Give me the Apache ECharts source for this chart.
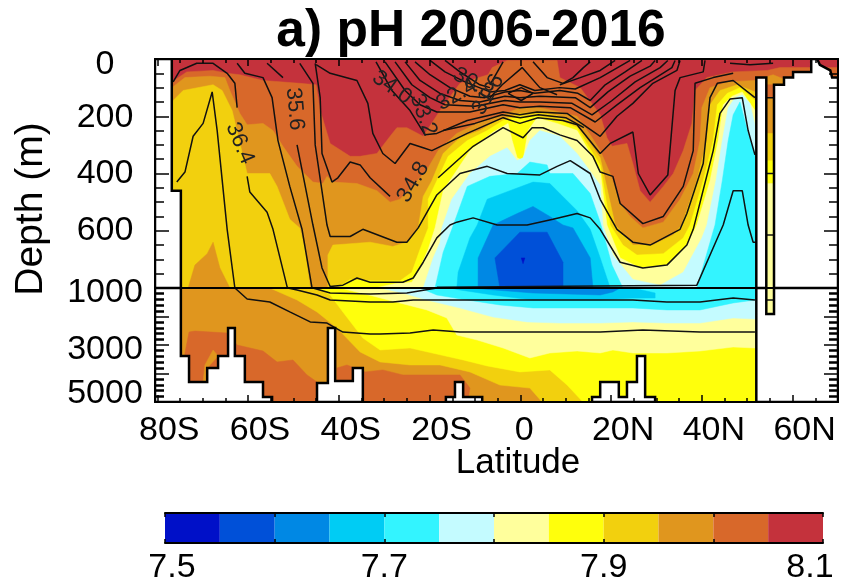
<!DOCTYPE html>
<html><head><meta charset="utf-8">
<style>html,body{margin:0;padding:0;background:#fff}#c{width:842px;height:587px}</style>
<script src="https://cdn.jsdelivr.net/npm/echarts@6/dist/echarts.min.js"></script>
</head><body><div id="c"></div>
<script>
// pH colour levels (7.5 to 8.1, step 0.05)
const phLevels=[7.5,7.55,7.6,7.65,7.7,7.75,7.8,7.85,7.9,7.95,8,8.05,8.1];
const phColors=['#0010c8','#0050d8','#0088e4','#00ccf4','#33f4ff','#c4fbff','#ffff9c','#ffff0c','#f2d00e','#e0961e','#d8682a','#c4323c'];
const latMajor=[-80,-60,-40,-20,0,20,40,60];
const latMinor=[-80,-75,-70,-65,-60,-55,-50,-45,-40,-35,-30,-25,-20,-15,-10,-5,0,5,10,15,20,25,30,35,40,45,50,55,60,65,70];
const latLabels={'-80':'80S','-60':'60S','-40':'40S','-20':'20S','0':'0','20':'20N','40':'40N','60':'60N'};
const cbTicks=[7.5,7.6,7.7,7.8,7.9,8,8.1];
const cbLabels=[7.5,7.7,7.9,8.1];

// Upper panel (0-800 on its axis): regions below each pH level, as [lat, depth]
const upBase=[[-80.5,0],[70,0],[70,800],[-80.5,800]];
const up805=[[-80.5,80],[-76.8,80],[-73.5,45],[-67.7,40],[-64.6,50],[-61.8,55],[-56.7,75],[-48.6,85],[-45,90],[-44.1,180],[-41.9,295],[-37.5,340],[-35.3,340],[-31.6,330],[-28.7,270],[-27.2,240],[-25,240],[-21.4,270],[-17.7,180],[-13.3,85],[-7.1,55],[-6.2,30],[-2.9,5],[8.1,5],[8.7,65],[13.2,100],[17.6,195],[19.1,275],[20.2,305],[23.5,295],[24.8,365],[26.4,460],[28.6,500],[31.5,445],[33.7,400],[35.9,320],[37.8,225],[38.5,110],[41.1,65],[46.9,45],[54.4,40],[57.2,30],[70,30],[70,800],[-80.5,800]];
const up800=[[-80.5,100],[-76.8,100],[-73.9,65],[-68.4,60],[-65.1,65],[-64,110],[-61.8,190],[-60.2,230],[-56.7,225],[-54.5,250],[-52.3,305],[-49.2,375],[-45.7,430],[-43.5,435],[-42.6,410],[-41.3,430],[-36,435],[-31.6,460],[-28.7,500],[-26.5,490],[-23.2,435],[-20.3,380],[-18.1,320],[-14,260],[-8.2,215],[-3.8,195],[-0.1,170],[4.3,170],[8.7,185],[12.5,200],[15.4,265],[17.6,320],[19.8,400],[22,505],[24.2,550],[27,590],[31.5,570],[35.2,490],[38.1,400],[39.6,285],[40,170],[41.8,100],[45.6,80],[51.7,75],[55.7,55],[58.8,75],[70,75],[70,800],[-80.5,800]];
const up795W=[[-80.5,145],[-76.5,145],[-74.3,110],[-67.7,90],[-65.7,110],[-63.5,180],[-60.2,400],[-55.2,400],[-53.6,445],[-50.8,560],[-48.6,590],[-47.5,665],[-46.3,800],[-80.5,800]];
const up795C=[[-42.4,800],[-42.4,685],[-41.3,650],[-33.1,640],[-28.1,655],[-25,640],[-22.5,590],[-21.4,480],[-19.5,425],[-17,330],[-13.3,275],[-8.9,250],[-5.1,215],[-0.1,190],[4.3,185],[8.7,200],[12.5,230],[17.6,345],[20.9,580],[24.8,650],[29.2,650],[33.7,615],[35.6,580],[38.9,425],[41.1,285],[41.8,160],[44,110],[47.8,90],[51.7,115],[52,800]];
const upLobe=[[-73.2,800],[-71.7,720],[-69,680],[-67.7,640],[-66.2,730],[-64,800]];
const up790=[[-40.4,800],[-37.5,770],[-32.7,775],[-26.5,775],[-23.9,745],[-22.1,665],[-20.3,590],[-20.3,490],[-18.4,425],[-15.9,340],[-11.7,285],[-7.3,250],[-3.8,215],[-0.1,200],[3.7,200],[8.7,215],[12.5,240],[17.6,370],[19.8,580],[22.6,650],[25.7,685],[31.5,680],[35.9,625],[37.4,580],[40.3,425],[42.5,285],[43.4,160],[45.6,120],[48.4,100],[51.7,145],[52,800]];
const up785=[[-32,800],[-27.6,785],[-23.9,780],[-22.1,730],[-20.3,665],[-18.8,590],[-17,460],[-11.1,320],[-6,255],[-2.7,225],[-1.8,285],[-0.7,345],[0.6,355],[1.7,250],[3.7,205],[8.1,225],[12.5,250],[17.6,390],[19.1,580],[22,695],[26.4,730],[32.3,720],[36.7,650],[38.9,580],[41.8,425],[43.6,285],[44.7,160],[46.7,130],[48.9,115],[51.7,180],[52,800]];
const up780=[[-21.4,800],[-19.2,695],[-17.7,640],[-17.3,590],[-15.1,490],[-11.1,400],[-6.7,340],[-2.9,310],[-0.7,355],[0.6,345],[2.1,285],[4.3,250],[8.7,270],[12.5,330],[17.6,440],[18.2,580],[20.4,685],[24.8,770],[30.8,790],[35.9,745],[40,625],[41.1,580],[43.1,425],[44.5,285],[45.8,170],[47.3,135],[48.9,125],[50.6,155],[51.7,230],[52,800]];
const up775W=[[-18.8,800],[-17,675],[-15.1,595],[-11.7,445],[-6.7,410],[-0.7,400],[2.1,360],[5.9,370],[6.5,400],[11.6,400],[15.4,470],[17.6,570],[20.2,720],[22.6,800]];
const up775E=[[38.9,800],[42.9,580],[44.5,425],[45.8,285],[46.9,195],[48.4,150],[50.2,260],[51.7,330],[52,800]];
const up770=[[-14,800],[-13.7,745],[-11.1,625],[-9.5,580],[-7.3,490],[-2.3,460],[2.8,430],[6.5,435],[8.7,470],[12.5,530],[15.4,595],[17.6,695],[19.8,800]];
const up765=[[-9.3,800],[-9.3,695],[-6,580],[-0.7,540],[2.8,515],[6.5,550],[9.4,580],[11.6,590],[15.4,695],[16,800]];
const up760=[[-4.5,800],[-5.6,695],[-0.1,605],[5.9,605],[9.4,710],[9.4,800]];
const up755=[[0.2,695],[1,695],[0.6,715]];
const colA=[[54.2,90],[55.9,90],[55.9,135],[54.2,135]];
const colB=[[54.2,135],[55.9,135],[55.9,260],[54.2,260]];
const colC=[[54.2,260],[55.9,260],[55.9,355],[54.2,355]];
const colD=[[54.2,355],[55.9,355],[55.9,435],[54.2,435]];
const colE=[[54.2,435],[55.9,435],[55.9,800],[54.2,800]];
// Upper panel land
const landW=[[-80.5,0],[-76.8,0],[-76.8,460],[-74.8,460],[-74.8,800],[-80.5,800]];
const landBar=[[52,800],[52,65],[54.2,65],[54.2,800]];
const landNE=[[55.9,800],[55.9,90],[58.1,90],[58.1,65],[60.1,65],[60.1,45],[64.1,45],[64.1,0],[65.4,0],[66,20],[68.3,40],[68.7,65],[70,65],[70,800]];

// Lower panel (1000-5000 m)
const lowBase=[[-80.5,1000],[70,1000],[70,5000],[-80.5,5000]];
const lowDarkW=[[-73.9,3280],[-73,2545],[-71.7,2510],[-64.6,2580],[-62.4,3000],[-56.7,3210],[-53.6,3595],[-50.1,3525],[-47,4050],[-44.8,4300],[-44.8,5000],[-73.9,5000]];
const lowNotch=[[-69.9,4300],[-69.5,3700],[-67.7,3175],[-66.6,3385],[-69,3805],[-69,4300]];
const lowDarkE=[[-40.4,3805],[-38.2,3700],[-34.2,3945],[-30.3,3875],[-25.9,4050],[-13.3,4050],[-11.1,4510],[-11.6,5000],[-40.4,5000]];
const low795=[[-55.2,1000],[-49.2,1420],[-44.8,1840],[-40.4,2405],[-35.3,3245],[-30.9,3595],[-24.3,3700],[-17.7,3700],[-11.1,3945],[-4.5,4405],[2.1,4510],[4.8,5000],[52,5000],[52,1000]];
const low790=[[-44.6,1000],[-41.9,1245],[-39.1,1840],[-34.7,2755],[-30.9,3175],[-24.3,3105],[-12.6,3525],[-7.3,3735],[-0.1,3945],[6.5,3875],[10.3,4405],[13.8,5000],[52,5000],[52,1000]];
const low785=[[-39.7,1000],[-32.5,1280],[-20.6,1770],[-16.2,2050],[-14,2650],[-9.5,2825],[-3.8,3105],[2.1,3455],[6.5,3280],[12.5,3210],[17.6,3280],[20.4,3175],[24.8,3280],[32.3,3280],[39.6,3210],[46.9,3070],[51.7,3105],[52,1000]];
const low780=[[-30.9,1000],[-25.9,1175],[-20.6,1420],[-13.3,1700],[-6,2020],[1.5,2190],[8.7,2230],[17.6,2230],[24.8,2190],[32.3,2230],[39.6,2230],[46.9,2050],[51.7,2090],[52,1000]];
const low775=[[-22.1,1000],[-18.4,1245],[-11.7,1420],[-4.5,1595],[2.8,1700],[17.6,1700],[24.8,1700],[32.3,1770],[39.6,1770],[46.9,1525],[51.7,1420],[52,1000]];
const low770=[[-15.5,1000],[-13.3,1070],[-6,1245],[2.8,1420],[17.6,1420],[24.8,1350],[29.7,1350],[29.7,1175],[24.8,1000]];
const low765=[[-11.1,1000],[2.8,1175],[17.6,1245],[20.4,1140],[22,1000]];
const lowCol=[[54.2,1000],[55.9,1000],[55.9,1910],[54.2,1910]];
// Lower panel land
const floorSW=[[-80.5,1000],[-74.8,1000],[-74.8,3385],[-73,3385],[-73,4300],[-69,4300],[-69,3805],[-66.6,3805],[-66.6,3385],[-64.4,3385],[-64.4,2405],[-62.9,2405],[-62.9,3385],[-60.7,3385],[-60.7,4300],[-56.7,4300],[-56.7,4825],[-54.7,4825],[-54.7,5000],[-80.5,5000]];
const floorB=[[-44.8,5000],[-44.8,4335],[-42.4,4335],[-42.4,2405],[-40.8,2405],[-40.8,4265],[-36.9,4265],[-36.9,3805],[-34.7,3805],[-34.7,5000]];
const floorC=[[-16.4,5000],[-16.4,4825],[-14.4,4825],[-14.4,4300],[-12.6,4300],[-12.6,4825],[-8.4,4825],[-8.4,5000]];
const floorD=[[15.8,5000],[15.8,4825],[17.6,4825],[17.6,4300],[21.7,4300],[21.7,4825],[23.5,4825],[23.5,4300],[25.7,4300],[25.7,3385],[27.5,3385],[27.5,4825],[29.7,4825],[29.7,5000]];
const floorE=[[52,5000],[52,1000],[54.2,1000],[54.2,1910],[55.9,1910],[55.9,1000],[70,1000],[70,5000]];

// Salinity contours, upper panel
const cA=[[-75.7,430],[-73.9,395],[-72.1,270],[-69.9,225],[-67.9,115],[-66.8,250],[-64.6,595],[-62.9,800]];
const cB1=[[-76.5,80],[-75,40],[-71.3,15],[-67.7,15],[-64.6,50],[-62.9,85],[-62.4,170]];
const cB2=[[-60.2,410],[-59.6,465],[-55.8,535],[-54.5,595],[-51.4,795],[-51.2,800]];
const cC=[[-62.4,15],[-60.7,50],[-56.7,65],[-54.7,135],[-53.4,285],[-50.8,445],[-48.1,595],[-45.9,800]];
const cCd=[[-18.4,797],[38.9,790],[44.7,580],[46.9,460],[48.9,460],[50.2,580],[51.3,640],[51.9,640]];
const cD1=[[-55.8,15],[-52.3,65]];
const cD2=[[-49.2,300],[-45.7,580],[-43.7,730],[-41.9,795],[-39.1,790],[-36,765],[-33.1,780],[-31.6,780],[-25.9,780],[-23.6,765],[-21.4,710],[-18.4,625],[-15.5,580],[-14,570],[-10.4,555],[-5.1,580],[1.5,580],[7.2,560],[12.5,540],[15.4,555],[17.6,595],[22,710],[27,730],[32.3,720],[36.7,650],[38.1,595],[42.5,320],[44,190],[46.2,140],[48.9,135],[50.2,250],[51.7,335]];
const cE=[[-48.6,15],[-45.7,85],[-45.2,300],[-42.6,580],[-41.9,620],[-37.5,620],[-34.7,595],[-27.2,640],[-25,640],[-22.5,590],[-18.4,475],[-13.3,400],[-7.3,375],[-2.9,400],[4.3,405],[8.1,375],[11,355],[15.4,400],[17.6,490],[21.3,595],[24.8,640],[28.6,650],[35.2,595],[36.7,540],[40.3,365],[41.8,135],[43.4,85],[46.9,75],[51.7,135]];
const cU1=[[-45.2,15],[-44.1,135],[-43.7,330],[-41.5,430],[-40.2,415],[-37.5,360],[-35.3,370],[-33.1,415],[-28.7,480]];
const cU2=[[-18.1,415],[-10.4,305],[-3.8,240],[0.6,275],[2.6,240],[5,240],[8.7,265],[12.5,285],[16,340],[17.6,395],[20.4,410],[22,505],[27,575],[31.5,550],[35.9,445],[38.1,320],[38.5,85],[42.5,65],[46.9,50]];
const cV=[[-45,20],[-41.9,50],[-36,75],[-33.6,155],[-32.5,260],[-30.3,330],[-27.6,365],[-24.3,295],[-21.4,310],[-19.5,320],[-16.2,295],[-11.7,260],[-3.8,205],[-0.1,225],[3.9,205],[9.4,215],[12.5,230],[17.6,330],[19.8,295],[24.8,255],[26,400],[28.6,475],[32.5,405],[34.1,110],[35.2,65],[40.3,45],[40.7,5]];
const cF1=[[-31.8,10],[-28.3,110],[-24.3,180],[-21,265],[-18.4,260],[-11.7,215],[-3.8,185],[-0.1,195],[3.7,185],[10.3,190],[17.6,270],[21.3,200],[24.8,155],[29.2,85],[34.5,40],[35.2,5]];
const cF2=[[-29.8,10],[-25.4,110],[-22.1,160],[-18.4,185],[-11.1,185],[-3.8,160],[-0.1,170],[4.3,165],[11,170],[16.5,220],[21.3,160],[26.4,100],[33.4,30],[34.1,5]];
const cF3=[[-27.6,10],[-23.9,90],[-19.9,135],[-16.6,160],[-10,165],[-3.4,145],[-0.1,150],[4.3,150],[11.4,155],[15.8,195],[20.2,145],[25.3,80],[30.8,30],[32.5,5]];
const cF4=[[-25.4,10],[-22.1,75],[-17.7,120],[-13.3,145],[-8.9,150],[-3.4,130],[-0.1,135],[4.3,130],[12.1,135],[15.4,170],[19.3,115],[24.2,60],[28.6,25],[29.7,5]];
const cF5=[[-23.2,10],[-19.9,55],[-15.5,100],[-11.1,130],[-7.8,135],[-3.4,115],[-0.1,110],[3.2,120],[8.7,110],[12.7,120],[15.4,145],[18.7,90],[23.1,45],[26.8,5]];
const cF6=[[-19.9,5],[-16.6,45],[-12.2,80],[-6.7,115],[-3.4,110],[-0.1,90],[3.2,110],[8.7,100],[12.1,105],[17.6,65],[22,25],[24.2,5]];
const cF7a=[[-16.6,5],[-13.3,45],[-8.9,90],[-6.7,100]];
const cF7b=[[8.7,90],[13.2,65],[17.6,40],[20.9,5]];
const cG1=[[-3.8,10],[-6.7,90]];
const cG2=[[-6.7,135],[-4,90],[0.4,30],[4.3,100],[8.1,125]];
const cG3=[[2.8,10],[5.9,65],[9.4,85],[11.6,65],[13.9,30],[15.4,10]];
const cG4=[[-17,250],[-10,225],[-4,195],[0,205],[4,195],[10,205],[14,240]];
const cDiamond=[[-2.7,120],[0.2,100],[2.8,120],[0.2,145],[-2.7,120]];
const cTop=[[46.2,15],[50.6,20],[55.7,15]];
const cCol1=[[54.2,135],[55.9,135]];
const cCol2=[[54.2,400],[55.9,400]];
const cCol3=[[54.2,615],[55.9,615]];
// Salinity contours, lower panel
const dA=[[-62.9,1000],[-62.4,1070],[-60.2,1385],[-55.2,1490],[-50.8,1840],[-46.3,2190],[-42.6,2230],[-39.1,2545],[-33.1,2615],[-30.9,2615],[-24.3,2580],[-19.2,2475],[-13.3,2545],[17.6,2545],[27,2475],[39.6,2545],[51.7,2545]];
const dB=[[-51.2,1000],[-49.2,1070],[-44.8,1245],[-41.9,1420],[-33.1,1490],[-28.1,1490],[-23.6,1420],[17.6,1420],[24.8,1420],[32.3,1490],[39.6,1490],[46.9,1350],[51.7,1420]];
const dC=[[-45.7,1000],[-41.9,1175],[-33.1,1210],[-25,1175],[-18.4,1000]];
const dCol=[[54.2,1420],[55.9,1420]];
const contourText=['36.4','35.6','34.8','34.0','33.2','32.4','30.8','31.6'];
const contourLat=[-61.8,-49.7,-23.6,-28.3,-21.4,-14,-10.4,-7.1];
const contourDepth=[295,175,430,100,195,125,85,125];
const contourTilt=[-67,-85,60,-35,-70,30,-30,60];

const FONT='"Liberation Sans",Arial,sans-serif';
const C=phColors;
const upperLayers=[[upBase,C[11]],[up805,C[10]],[up800,C[9]],[up795W,C[8]],[up795C,C[8]],[upLobe,C[9]],[up790,C[7]],[up785,C[6]],[up780,C[5]],[up775W,C[4]],[up775E,C[4]],[up770,C[3]],[up765,C[2]],[up760,C[1]],[up755,C[0]],[colA,C[10]],[colB,C[9]],[colC,C[8]],[colD,C[7]],[colE,C[6]]];
const lowerLayers=[[lowBase,C[9]],[lowDarkW,C[10]],[lowNotch,C[9]],[lowDarkE,C[10]],[low795,C[8]],[low790,C[7]],[low785,C[6]],[low780,C[5]],[low775,C[4]],[low770,C[3]],[low765,C[2]],[lowCol,C[6]]];
const upperLand=[landW,landBar,landNE];
const lowerLand=[floorSW,floorB,floorC,floorD,floorE];
const upperLines=[cA,cB1,cB2,cC,cCd,cD1,cD2,cE,cU1,cU2,cV,cF1,cF2,cF3,cF4,cF5,cF6,cF7a,cF7b,cG1,cG2,cG3,cG4,cDiamond,cTop,cCol1,cCol2,cCol3];
const lowerLines=[dA,dB,dC,dCol];

function polySeries(list,xi,yi,z,land){
  return {type:'custom',xAxisIndex:xi,yAxisIndex:yi,z,clip:true,silent:true,
    data:list.map((_,i)=>[0,0,i]),
    renderItem:(p,api)=>{
      const e=list[p.dataIndex];
      const pts=(land?e:e[0]).map(q=>api.coord(q));
      return {type:'polygon',shape:{points:pts},style:land?{fill:'#fff',stroke:'#000',lineWidth:2.5}:{fill:e[1],stroke:e[1],lineWidth:0.5}};
    }};
}
function lineSeries(list,xi,yi){
  return list.map(d=>({type:'line',xAxisIndex:xi,yAxisIndex:yi,z:3,silent:true,data:d,showSymbol:false,symbol:'none',smooth:false,clip:true,
    lineStyle:{color:'#111',width:1.5}}));
}
const base={min:-80.5,max:70,type:'value',splitLine:{show:false},z:10};
function xAx(grid,pos,vals,len,opts){
  return Object.assign({},base,{gridIndex:grid,position:pos,axisLine:{show:true,onZero:false,lineStyle:{color:'#000',width:2}},
    axisTick:{show:len>0,inside:true,length:len,customValues:vals,lineStyle:{color:'#000',width:1.5}},axisLabel:{show:false}},opts||{});
}
const rich34=pad=>({fontFamily:FONT,fontSize:34,color:'#000',padding:pad});
const xAxes=[
  xAx(0,'top',latMajor,7),
  xAx(0,'top',latMinor,4),
  xAx(0,'bottom',latMinor,0),
  xAx(1,'bottom',latMajor,7,{axisLabel:{show:true,customValues:latMajor,margin:12,
     formatter:v=>{const t=latLabels[String(v)];return v===0?'{z|'+t+'}':'{s|'+t+'}';},
     rich:{s:rich34([0,0,0,24]),z:rich34([0,0,0,8])}}}),
  xAx(1,'bottom',latMinor,4),
  // colourbar
  {gridIndex:2,type:'value',min:7.5,max:8.1,position:'bottom',z:10,splitLine:{show:false},
    axisLine:{show:true,onZero:false,lineStyle:{color:'#000',width:2}},
    axisTick:{inside:true,length:4,customValues:cbTicks,lineStyle:{color:'#000',width:1.5}},
    axisLabel:{customValues:cbLabels,margin:8,color:'#000',
      formatter:v=>{const s=v.toFixed(1);return v===7.5?'{a|'+s+'}':v===8.1?'{b|'+s+'}':'{c|'+s+'}';},
      rich:{a:rich34([0,0,0,14]),b:rich34([0,26,0,0]),c:rich34([0,0,0,0])}}},
  {gridIndex:2,type:'value',min:7.5,max:8.1,position:'top',z:10,splitLine:{show:false},
    axisLine:{show:true,onZero:false,lineStyle:{color:'#000',width:2}},
    axisTick:{inside:true,length:4,customValues:cbTicks,lineStyle:{color:'#000',width:1.5}},axisLabel:{show:false}}
];
function yAx(grid,pos,min,max,interval,split,labels){
  return {gridIndex:grid,type:'value',position:pos,inverse:true,min,max,interval,z:10,splitLine:{show:false},
    axisLine:{show:true,onZero:false,lineStyle:{color:'#000',width:2}},
    axisTick:{inside:true,length:14,lineStyle:{color:'#000',width:1.5}},
    minorTick:{show:true,splitNumber:split,length:9,lineStyle:{color:'#000',width:grid===1?2.5:1.5}},
    axisLabel:labels||{show:false}};
}
const yAxes=[
  yAx(0,'left',0,800,200,4,{show:true,align:'center',margin:50,showMaxLabel:false,
     formatter:v=>v===0?'{t|0}':v===200?'{u|200}':v===800?'':'{n|'+v+'}',
     rich:{t:rich34([12,0,0,0]),u:rich34([2,0,0,0]),n:rich34([0,0,0,0])}}),
  yAx(0,'right',0,800,200,4),
  yAx(1,'left',1000,5000,1000,5,{show:true,align:'center',margin:50,
     formatter:v=>v===1000?'{a|1000}':v===3000?'{b|3000}':v===5000?'{c|5000}':'',
     rich:{a:rich34([10,0,0,0]),b:rich34([10,0,0,0]),c:rich34([0,0,16,0])}}),
  yAx(1,'right',1000,5000,1000,5),
  {gridIndex:2,type:'value',min:0,max:1,show:false}
];
const series=[
  polySeries(upperLayers,0,0,1,false),
  polySeries(lowerLayers,3,2,1,false),
  ...lineSeries(upperLines,0,0),
  ...lineSeries(lowerLines,3,2),
  polySeries(upperLand,0,0,4,true),
  polySeries(lowerLand,3,2,4,true),
  {type:'custom',xAxisIndex:0,yAxisIndex:0,z:5,silent:true,data:contourText.map((t,i)=>[contourLat[i],contourDepth[i],i]),
   renderItem:(p,api)=>{const i=p.dataIndex;const c=api.coord([contourLat[i],contourDepth[i]]);
     return {type:'text',x:c[0],y:c[1],rotation:contourTilt[i]*Math.PI/180,
       style:{x:0,y:0,text:contourText[i],fontFamily:FONT,fontSize:22,fill:'#222',align:'center',verticalAlign:'middle'}};}},
  {type:'custom',xAxisIndex:5,yAxisIndex:4,z:1,silent:true,data:phColors.map((_,i)=>[phLevels[i],0,i]),
   renderItem:(p,api)=>{const i=p.dataIndex;const a=api.coord([phLevels[i],1]),b=api.coord([phLevels[i+1],0]);
     return {type:'rect',shape:{x:a[0],y:a[1],width:b[0]-a[0],height:b[1]-a[1]},style:{fill:phColors[i]}};}}
];
const chart=echarts.init(document.getElementById('c'),null,{renderer:'canvas'});
chart.setOption({
  animation:false,backgroundColor:'#fff',
  grid:[{left:155,top:59,width:683,height:229},{left:155,top:288,width:683,height:114},{left:165,top:513,width:658,height:30}],
  xAxis:xAxes,yAxis:yAxes,series,
  graphic:[
    {type:'text',x:471,y:32,z:20,style:{text:'a) pH 2006-2016',font:'bold 51.5px "Liberation Sans",Arial,sans-serif',fill:'#000',align:'center',verticalAlign:'middle'}},
    {type:'text',x:518,y:463,z:20,style:{text:'Latitude',font:'35px "Liberation Sans",Arial,sans-serif',fill:'#000',align:'center',verticalAlign:'middle'}},
    {type:'text',x:31,y:209,z:20,rotation:Math.PI/2,style:{text:'Depth (m)',font:'39px "Liberation Sans",Arial,sans-serif',fill:'#000',align:'center',verticalAlign:'middle'}}
  ]
});
</script></body></html>
